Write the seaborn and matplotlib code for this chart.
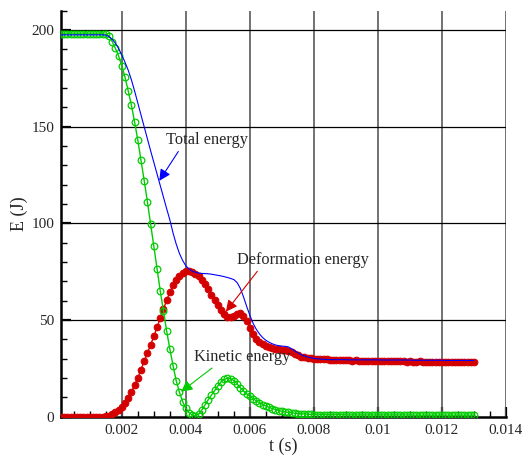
import matplotlib
matplotlib.use("Agg")
import matplotlib.pyplot as plt
from matplotlib.ticker import MultipleLocator, FixedLocator
import numpy as np
import seaborn as sns

# samples every 0.1 ms, 0 .. 13 ms
t_step = 0.0001
n_samples = 131

total_energy = (
    [197.5] * 15
    + [197.3, 196.6, 195.2, 193.2, 190.4, 187.0, 183.3, 179.2, 174.2, 168.4,
       162.3, 156.0, 149.8, 143.6, 137.5, 131.5, 125.5, 119.5, 113.5, 107.6,
       101.8, 95.0, 89.2, 84.4, 80.8, 78.0, 76.4, 75.3, 74.7, 74.3,
       74.1, 74.0, 73.9, 73.7, 73.4, 73.1, 72.8, 72.4, 72.0, 71.5,
       70.9, 69.4, 66.4, 62.0, 57.0, 52.4, 48.3, 45.2, 42.8, 40.9,
       39.5, 38.5, 37.7, 37.1, 36.7, 36.5, 36.4, 36.1, 35.2, 34.0,
       33.0, 32.1, 31.4, 30.9, 30.5, 30.2, 30.0, 29.8, 29.7, 29.6]
    + [29.5] * 6 + [29.4] * 10 + [29.3] * 10 + [29.2] * 10 + [29.1] * 10
)

deformation_energy = (
    [0.0] * 15
    + [0.2, 0.6, 1.3, 2.4, 3.6, 5.2, 7.2, 9.8, 12.8, 16.3,
       20.2, 24.4, 28.8, 33.0, 37.2, 41.6, 46.2, 51.0, 55.6, 60.2,
       64.4, 68.0, 70.8, 72.9, 74.3, 75.1, 75.3, 74.9, 74.0, 72.6,
       70.8, 68.4, 65.8, 63.0, 60.3, 57.7, 55.2, 53.0, 51.8, 51.4,
       52.0, 52.9, 53.4, 52.3, 49.3, 46.0, 42.8, 40.4, 38.6, 37.5,
       36.7, 36.0, 35.4, 35.0, 34.8, 34.6, 34.5, 34.2, 33.6, 32.6,
       31.7, 31.1, 30.7, 30.4, 30.2, 30.0, 29.9, 29.8, 29.7, 29.6]
    + [29.5, 29.4, 29.4, 29.3, 29.2, 29.2, 29.1, 29.0, 29.1, 29.0,
       28.9, 29.0, 28.9, 28.8, 28.9, 28.8, 28.7, 28.8, 28.7, 28.7,
       28.6, 28.7, 28.6, 28.6, 28.5, 28.6, 28.5, 28.5, 28.6, 28.5,
       28.4, 28.5, 28.4, 28.4, 28.5, 28.4, 28.3, 28.4, 28.3, 28.4,
       28.3, 28.3, 28.4, 28.3, 28.2, 28.3]
)

kinetic_energy = (
    [198.0] * 15
    + [197.8, 197.0, 194.0, 190.5, 186.5, 181.5, 175.5, 168.5, 161.0, 152.4,
       142.9, 132.6, 122.0, 111.0, 99.6, 88.1, 76.5, 65.1, 54.8, 44.3,
       35.0, 26.4, 18.5, 12.6, 7.8, 4.3, 2.1, 0.9, 0.5, 1.3,
       3.5, 6.2, 8.8, 11.2, 13.6, 15.9, 18.0, 19.3, 19.9, 19.6,
       18.7, 17.0, 15.0, 13.3, 11.8, 10.5, 9.3, 8.2, 7.2, 6.3,
       5.5, 4.8, 4.2, 3.7, 3.2, 2.8, 2.5, 2.2, 2.0, 1.8,
       1.6, 1.5, 1.4, 1.3, 1.2, 1.1]
    + [1.0] * 10 + [0.9] * 20 + [0.8] * 20
)

x_ticks = [0.002, 0.004, 0.006, 0.008, 0.010, 0.012, 0.014]
x_tick_labels = ["0.002", "0.004", "0.006", "0.008", "0.01", "0.012", "0.014"]
y_ticks = [0, 50, 100, 150, 200]

t = np.arange(n_samples) * t_step

sns.set_style("ticks")
plt.rcParams["font.family"] = ["Liberation Serif", "DejaVu Serif"]

fig = plt.figure(figsize=(5.25, 4.55), dpi=100)
ax = fig.add_axes([0.1162, 0.0842, 0.8476, 0.8923])

red = "#d40000"
green = "#00cc00"
blue = "#0000ff"

sns.lineplot(x=t, y=deformation_energy, ax=ax, color=red, lw=1.0,
             marker="o", markersize=4.8, markeredgecolor=red,
             markerfacecolor=red, estimator=None, sort=False, zorder=3)
sns.lineplot(x=t, y=kinetic_energy, ax=ax, color=green, lw=1.0,
             marker="o", markersize=4.8, markeredgecolor=green,
             markerfacecolor="none", markeredgewidth=0.9,
             estimator=None, sort=False, zorder=4)
sns.lineplot(x=t, y=total_energy, ax=ax, color=blue, lw=0.8,
             estimator=None, sort=False, zorder=5)

ax.set_xlim(0.0001, 0.014)
ax.set_ylim(0, 210)

ax.xaxis.set_major_locator(FixedLocator(x_ticks))
ax.set_xticklabels(x_tick_labels)
ax.xaxis.set_minor_locator(MultipleLocator(0.0005))
ax.yaxis.set_major_locator(FixedLocator(y_ticks))
ax.yaxis.set_minor_locator(MultipleLocator(10))

ax.tick_params(which="major", direction="in", length=7, width=1.6,
               labelsize=11, color="black", pad=5)
ax.tick_params(which="minor", direction="in", length=4, width=1.0,
               color="black")

ax.grid(False)
for xv in x_ticks:
    ax.axvline(xv, color="#5a5a5a", lw=1.2, zorder=1)
for yv in y_ticks[1:]:
    ax.axhline(yv, color="black", lw=0.9, zorder=1)

for side in ["top", "right"]:
    ax.spines[side].set_visible(False)
for side in ["left", "bottom"]:
    ax.spines[side].set_linewidth(1.8)
    ax.spines[side].set_color("black")

ax.set_xlabel("t (s)", fontsize=13)
ax.set_ylabel("E (J)", fontsize=13)
ax.xaxis.set_label_coords(0.5, -0.052)
ax.yaxis.set_label_coords(-0.074, 0.5)

arrow = dict(arrowstyle="-|>", lw=0.8, mutation_scale=17, shrinkA=0, shrinkB=0)
ax.annotate("Total energy", xy=(0.00317, 122), xytext=(0.00337, 143),
            fontsize=11.8, va="center", ha="left", zorder=6,
            arrowprops=dict(arrow, color=blue, relpos=(0.18, 0.0)))
ax.annotate("Deformation energy", xy=(0.00525, 54.3), xytext=(0.00561, 81),
            fontsize=11.8, va="center", ha="left", zorder=6,
            arrowprops=dict(arrow, color=red, relpos=(0.17, 0.0)))
ax.annotate("Kinetic energy", xy=(0.00385, 12.9), xytext=(0.00426, 31),
            fontsize=11.8, va="center", ha="left", zorder=6,
            arrowprops=dict(arrow, color=green, relpos=(0.23, 0.0)))

fig.savefig("out.png", dpi=100)
